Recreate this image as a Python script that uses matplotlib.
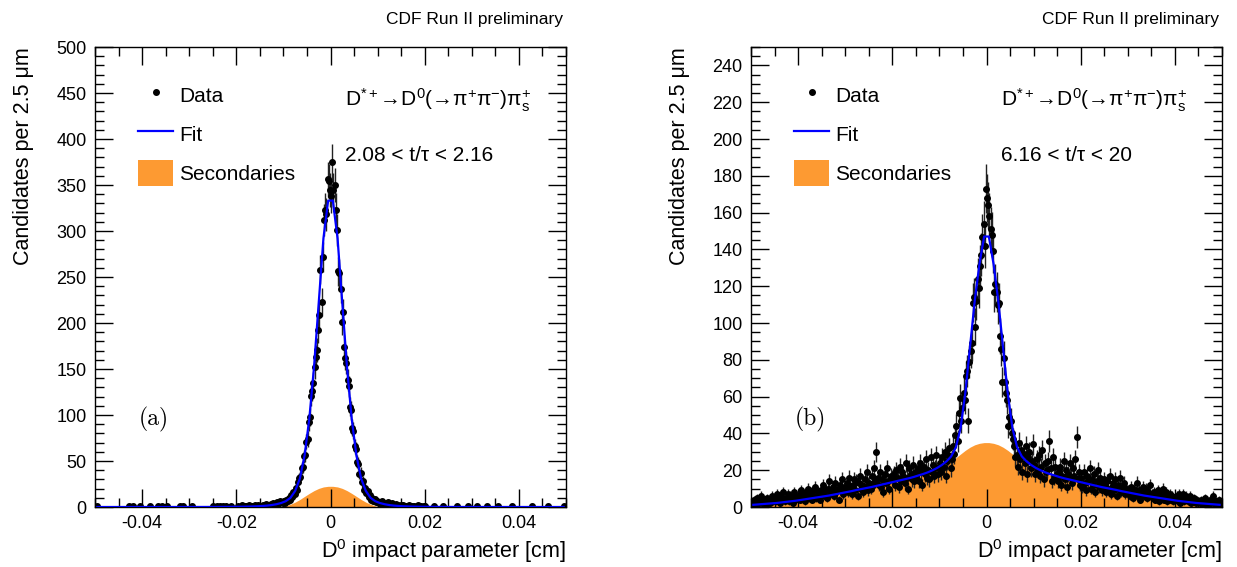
import numpy as np
import matplotlib.pyplot as plt
from matplotlib.lines import Line2D
from matplotlib.patches import Patch
from matplotlib.ticker import MultipleLocator, FuncFormatter

plt.rcParams['font.family'] = ['Liberation Sans', 'DejaVu Sans']
plt.rcParams['mathtext.fontset'] = 'custom'
plt.rcParams['mathtext.rm'] = 'Liberation Sans'
plt.rcParams['mathtext.it'] = 'Liberation Sans'
plt.rcParams['axes.unicode_minus'] = False

# 400 bins of 2.5 um from -0.05 to 0.05 cm
n_bins = 400
x_lo, x_hi = -0.05, 0.05

# ---- (a) 2.08 < t/tau < 2.16 : counts per bin (20 rows of 20 bins) ----
counts_a = (
    [0, 1, 0, 0, 0, 0, 0, 0, 0, 0, 0, 0, 0, 0, 0, 0, 0, 0, 0, 0] +
    [0, 0, 0, 0, 0, 0, 0, 0, 1, 0, 0, 0, 1, 0, 0, 0, 0, 0, 1, 0] +
    [0, 0, 0, 0, 0, 0, 1, 0, 0, 0, 0, 0, 0, 1, 0, 0, 1, 0, 0, 0] +
    [0, 1, 0, 0, 0, 0, 0, 0, 0, 0, 0, 0, 1, 0, 1, 0, 0, 0, 0, 0] +
    [0, 0, 1, 0, 0, 0, 0, 0, 0, 0, 0, 0, 0, 0, 0, 0, 0, 0, 0, 0] +
    [1, 0, 0, 1, 0, 0, 1, 0, 1, 0, 0, 1, 0, 0, 0, 1, 0, 0, 0, 0] +
    [0, 1, 0, 0, 2, 1, 0, 1, 1, 0, 2, 1, 0, 1, 1, 2, 0, 1, 2, 1] +
    [1, 0, 2, 1, 1, 3, 2, 1, 2, 3, 2, 4, 3, 2, 5, 3, 4, 6, 5, 4] +
    [6, 4, 8, 7, 10, 8, 13, 11, 16, 14, 21, 19, 27, 31, 33, 42, 44, 55, 57, 71] +
    [74, 92, 98, 121, 126, 135, 152, 163, 171, 192, 209, 258, 223, 272, 312, 323, 318, 356, 354, 345] +
    [338, 375, 345, 350, 323, 301, 256, 254, 237, 201, 212, 174, 162, 157, 138, 131, 109, 105, 86, 83] +
    [66, 63, 49, 47, 36, 37, 27, 28, 19, 21, 15, 17, 11, 13, 8, 10, 6, 9, 5, 7] +
    [5, 4, 3, 6, 2, 4, 3, 2, 5, 1, 3, 2, 4, 1, 2, 3, 1, 2, 0, 2] +
    [1, 2, 0, 1, 1, 0, 2, 1, 0, 1, 1, 0, 0, 1, 2, 0, 1, 0, 0, 1] +
    [1, 0, 0, 0, 0, 0, 0, 1, 0, 0, 0, 0, 0, 0, 0, 1, 0, 0, 0, 0] +
    [0, 0, 0, 0, 0, 0, 0, 1, 0, 0, 0, 0, 0, 0, 0, 0, 1, 0, 0, 0] +
    [0, 0, 0, 0, 1, 0, 0, 0, 0, 0, 0, 0, 1, 0, 0, 0, 0, 0, 0, 0] +
    [0, 0, 1, 0, 0, 0, 0, 0, 0, 0, 0, 0, 0, 0, 1, 0, 0, 0, 0, 0] +
    [0, 0, 0, 0, 0, 0, 0, 0, 0, 0, 0, 1, 0, 0, 0, 0, 0, 0, 0, 0] +
    [0, 0, 0, 0, 1, 0, 0, 0, 0, 0, 0, 0, 0, 0, 0, 0, 0, 0, 1, 0]
)

# fit curve and secondaries, sampled every 0.001 cm (|x| = 0.0005 ... 0.0495)
fit_a_half = [333, 292, 222, 152, 96, 56, 31, 17.5, 10, 6.3,
              4.3, 3.0, 2.1, 1.5, 1.1, 0.8, 0.6, 0.45, 0.35, 0.27,
              0.2, 0.16, 0.13, 0.1, 0.08, 0.06, 0.05, 0.04, 0.03, 0.03,
              0.02, 0.02, 0.02, 0.01, 0.01, 0.01, 0.01, 0.01, 0.01, 0.01,
              0.0, 0.0, 0.0, 0.0, 0.0, 0.0, 0.0, 0.0, 0.0, 0.0]
sec_a_half = [22.5, 21.8, 20.2, 17.8, 14.8, 11.5, 8.2, 5.3, 3.0, 1.3,
              0.3, 0, 0, 0, 0, 0, 0, 0, 0, 0,
              0, 0, 0, 0, 0, 0, 0, 0, 0, 0,
              0, 0, 0, 0, 0, 0, 0, 0, 0, 0,
              0, 0, 0, 0, 0, 0, 0, 0, 0, 0]

# ---- (b) 6.16 < t/tau < 20 ----
counts_b = (
    [3, 2, 4, 1, 3, 5, 2, 3, 6, 2, 4, 3, 1, 5, 3, 4, 2, 6, 3, 4] +
    [5, 3, 7, 4, 2, 6, 4, 8, 3, 5, 4, 7, 3, 6, 5, 2, 8, 4, 6, 5] +
    [6, 4, 9, 7, 5, 3, 8, 6, 10, 5, 7, 4, 9, 6, 11, 5, 8, 7, 4, 9] +
    [8, 12, 6, 9, 5, 10, 14, 7, 9, 11, 6, 13, 8, 10, 4, 12, 9, 15, 7, 11] +
    [10, 13, 8, 16, 11, 7, 12, 15, 9, 14, 6, 13, 17, 10, 12, 8, 15, 11, 19, 9] +
    [13, 10, 17, 12, 21, 14, 30, 16, 12, 19, 11, 15, 8, 18, 13, 21, 14, 10, 17, 16] +
    [15, 18, 12, 20, 16, 11, 22, 14, 19, 17, 13, 24, 16, 10, 21, 18, 15, 23, 14, 19] +
    [17, 21, 14, 24, 19, 12, 22, 18, 26, 16, 20, 15, 27, 19, 23, 17, 21, 28, 18, 22] +
    [24, 19, 27, 22, 30, 17, 25, 28, 32, 21, 26, 33, 29, 39, 44, 36, 51, 59, 47, 54] +
    [62, 58, 71, 74, 47, 79, 85, 89, 111, 114, 98, 112, 124, 119, 131, 137, 147, 154, 142, 173] +
    [168, 164, 158, 151, 148, 139, 117, 121, 117, 110, 111, 93, 86, 68, 81, 68, 62, 58, 44, 49] +
    [47, 40, 37, 33, 27, 28, 22, 35, 26, 31, 19, 29, 24, 33, 18, 27, 30, 21, 25, 34] +
    [23, 18, 26, 20, 28, 17, 22, 31, 15, 24, 19, 20, 25, 36, 21, 14, 27, 16, 22, 18] +
    [14, 19, 22, 12, 17, 25, 15, 20, 11, 18, 24, 16, 13, 21, 17, 26, 38, 15, 19, 12] +
    [16, 11, 19, 13, 9, 17, 14, 21, 10, 15, 12, 18, 8, 14, 20, 11, 16, 13, 9, 15] +
    [12, 8, 14, 10, 17, 7, 11, 13, 9, 15, 6, 12, 10, 16, 8, 11, 13, 7, 10, 9] +
    [9, 6, 11, 8, 5, 10, 7, 13, 6, 9, 4, 8, 11, 6, 7, 10, 5, 8, 12, 6] +
    [7, 5, 8, 4, 6, 9, 3, 7, 5, 10, 4, 6, 8, 3, 5, 7, 4, 6, 3, 5] +
    [5, 6, 3, 7, 2, 4, 7, 3, 5, 6, 4, 3, 6, 2, 4, 3, 5, 2, 4, 3] +
    [3, 2, 4, 1, 3, 5, 2, 3, 1, 4, 2, 3, 6, 2, 1, 3, 2, 4, 1, 3]
)

fit_b_half = [147, 132, 112, 87, 62, 43, 32.5, 27.5, 24.8, 22.8,
              21.2, 19.9, 18.8, 17.9, 17.1, 16.3, 15.6, 15.0, 14.4, 13.8,
              13.2, 12.6, 12.0, 11.4, 10.8, 10.3, 9.8, 9.3, 8.7, 8.2,
              7.7, 7.2, 6.7, 6.2, 5.8, 5.4, 5.0, 4.6, 4.2, 3.8,
              3.4, 3.1, 2.8, 2.5, 2.2, 2.0, 1.8, 1.6, 1.4, 1.2]
sec_b_half = [35, 34.6, 33.8, 32.5, 30.8, 28.8, 26.8, 24.9, 23.2, 21.7,
              20.4, 19.3, 18.3, 17.4, 16.6, 15.9, 15.2, 14.6, 14.0, 13.4,
              12.8, 12.2, 11.6, 11.0, 10.4, 9.9, 9.4, 8.9, 8.4, 7.9,
              7.4, 6.9, 6.4, 6.0, 5.6, 5.2, 4.8, 4.4, 4.0, 3.6,
              3.3, 3.0, 2.7, 2.4, 2.1, 1.9, 1.7, 1.5, 1.3, 1.1]

panels = [
    dict(counts=counts_a, fit=fit_a_half, sec=sec_a_half, ymax=500, ymaj=50, ymin=10,
         trange='2.08 < t/τ < 2.16', tag='(a)', left=95),
    dict(counts=counts_b, fit=fit_b_half, sec=sec_b_half, ymax=250, ymaj=20, ymin=5,
         trange='6.16 < t/τ < 20', tag='(b)', left=751),
]

W, H = 1237, 567
fig = plt.figure(figsize=(W / 100, H / 100), dpi=100)

orange = '#fd9a32'
edges = np.linspace(x_lo, x_hi, n_bins + 1)
centres = 0.5 * (edges[1:] + edges[:-1])
fit_x = np.linspace(-0.0495, 0.0495, 100)


def fmt(v, pos):
    if abs(v) < 1e-12:
        return '0'
    return f'{v:g}'


for p in panels:
    ax = fig.add_axes([p['left'] / W, (H - 507) / H, 471 / W, 460 / H])
    c = np.array(p['counts'], dtype=float)
    fit = np.array(p['fit'][::-1] + p['fit'])
    sec = np.array(p['sec'][::-1] + p['sec'])

    ax.fill_between(fit_x, 0, sec, color=orange, lw=0, zorder=1)
    m = c > 0
    ax.errorbar(centres[m], c[m], yerr=np.sqrt(c[m]), fmt='o', ms=4,
                color='black', ecolor='#222222', elinewidth=1, capsize=0, zorder=2)
    ax.plot(fit_x, fit, color='#0000ff', lw=1.6, zorder=3)

    ax.set_xlim(x_lo, x_hi)
    ax.set_ylim(0, p['ymax'])
    ax.xaxis.set_major_locator(MultipleLocator(0.02))
    ax.xaxis.set_minor_locator(MultipleLocator(0.005))
    ax.yaxis.set_major_locator(MultipleLocator(p['ymaj']))
    ax.yaxis.set_minor_locator(MultipleLocator(p['ymin']))
    ax.xaxis.set_major_formatter(FuncFormatter(fmt))
    ax.yaxis.set_major_formatter(FuncFormatter(fmt))
    ax.tick_params(which='both', direction='in', top=True, right=True,
                   width=1, labelsize=13)
    ax.tick_params(which='major', length=13, pad=6)
    ax.tick_params(which='minor', length=6.5)
    for s in ax.spines.values():
        s.set_linewidth(1)

    ax.set_xlabel(r'D$^{0}$ impact parameter [cm]', fontsize=15.5, loc='right')
    ax.xaxis.set_label_coords(1.0, -0.065)
    ax.set_ylabel('Candidates per 2.5 μm', fontsize=15.5, loc='top')
    ax.yaxis.set_label_coords(-0.13, 1.0)

    handles = [Line2D([], [], marker='o', ms=4, ls='none', color='black'),
               Line2D([], [], color='#0000ff', lw=1.6),
               Patch(facecolor=orange, edgecolor='none')]
    ax.legend(handles, ['Data', 'Fit', 'Secondaries'], loc='upper left',
              bbox_to_anchor=(0.092, 0.923), frameon=False, fontsize=15,
              borderpad=0, borderaxespad=0, handlelength=1.65, handleheight=1.5,
              labelspacing=0.65, handletextpad=0.3)

    ax.text(0.53, 0.885, 'D$^{*+}$→D$^{0}$(→π$^{+}$π$^{-}$)π$^{+}_{s}$',
            transform=ax.transAxes, fontsize=15, va='center', ha='left')
    ax.text(0.53, 0.765, p['trange'], transform=ax.transAxes, fontsize=15,
            va='center', ha='left')
    ax.text(0.092, 0.19, p['tag'], transform=ax.transAxes, fontsize=17,
            family='cmr10', va='center', ha='left')
    ax.text(0.994, 1.059, 'CDF Run II preliminary', transform=ax.transAxes,
            fontsize=12.5, va='center', ha='right')

fig.savefig('out.png', dpi=100)
